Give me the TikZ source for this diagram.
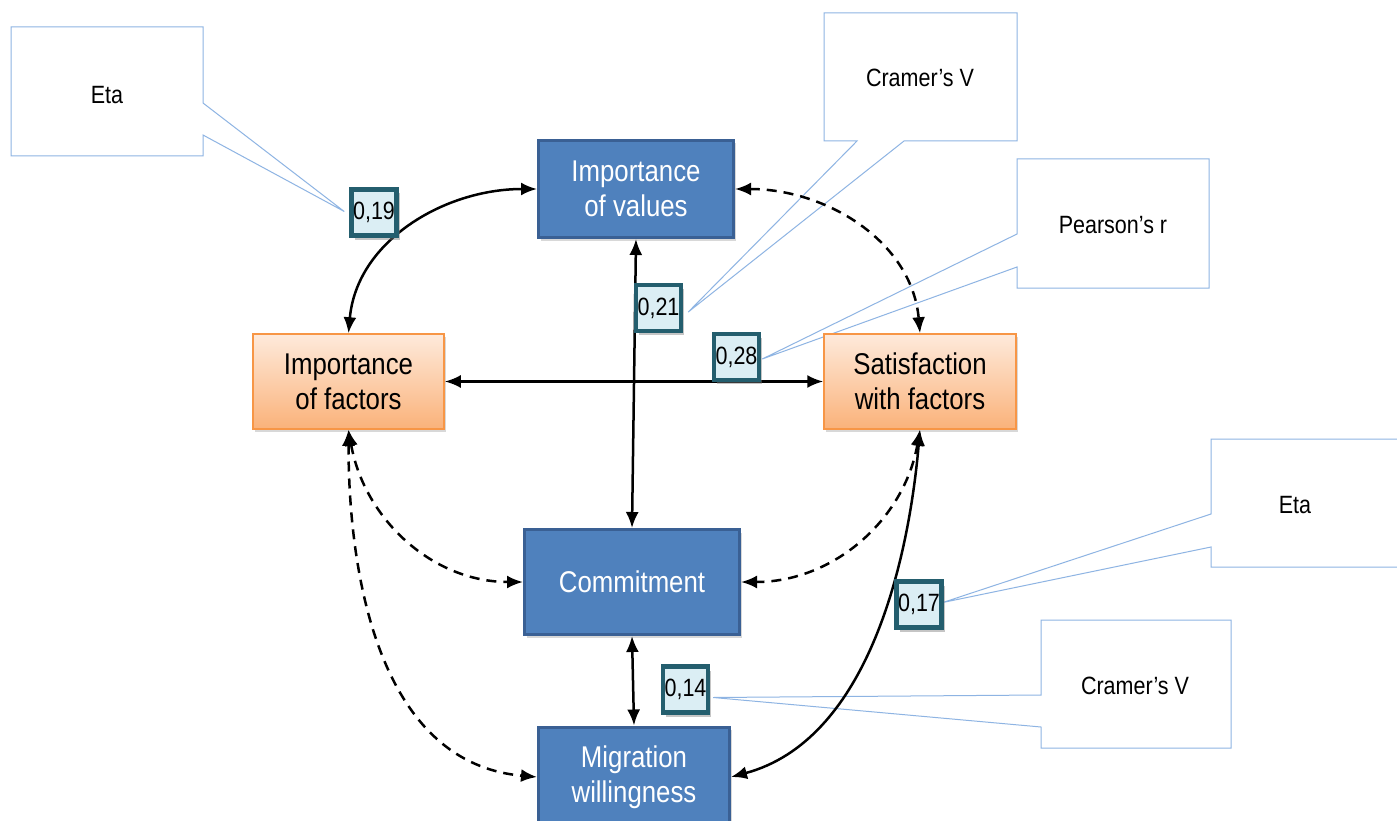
\documentclass[tikz,border=0pt]{standalone}
\usepackage{fontspec}
\setmainfont{Liberation Sans}
\newfontfamily\condfont[FakeStretch=0.86]{Liberation Sans}
\usetikzlibrary{arrows.meta,shadows,calc}
\definecolor{boxblue}{HTML}{4F81BD}
\definecolor{boxblueline}{HTML}{3A6094}
\definecolor{orline}{HTML}{F79646}
\definecolor{ortop}{HTML}{FEEADB}
\definecolor{orbot}{HTML}{FAB27A}
\definecolor{valfill}{HTML}{DBEEF4}
\definecolor{valline}{HTML}{245E6E}
\definecolor{callline}{HTML}{8EB4E3}
\definecolor{pointline}{HTML}{5B8BD0}
\pgfdeclarelayer{bg}\pgfsetlayers{bg,main}
\tikzset{
  bluebox/.style={draw=boxblueline, line width=3pt, fill=boxblue, text=white, align=center, inner sep=0pt,
    font=\condfont\fontsize{30}{35}\selectfont, drop shadow={opacity=.3, shadow xshift=2pt, shadow yshift=-3pt}},
  orbox/.style={draw=orline, line width=1.5pt, top color=ortop, bottom color=orbot, align=center, inner sep=0pt,
    font=\condfont\fontsize{30}{35}\selectfont, drop shadow={opacity=.3, shadow xshift=2pt, shadow yshift=-3pt}},
  valbox/.style={draw=valline, line width=4.5pt, fill=valfill, minimum width=45pt, minimum height=46pt, inner sep=0pt,
    font=\condfont\fontsize{25}{28}\selectfont, drop shadow={opacity=.45, shadow xshift=3pt, shadow yshift=-4pt}},
  link/.style={line width=2.5pt, {Latex[length=16pt,width=13pt]}-{Latex[length=16pt,width=13pt]}},
  dlink/.style={link, dash pattern=on 10pt off 7pt},
  callout/.style={draw=callline, line width=1pt, fill=white},
  calltext/.style={font=\condfont\fontsize{25}{28}\selectfont}
}
\begin{document}
\begin{tikzpicture}[x=1pt,y=1pt]
\useasboundingbox (0,0) rectangle (1397,-821);
\clip (0,0) rectangle (1397,-821);

% main boxes
\node[bluebox, minimum width=195pt, minimum height=97pt] (vals) at (636,-189) {Importance\\of values};
\node[orbox, minimum width=191pt, minimum height=95pt] (fac) at (348.5,-381.5) {Importance\\of factors};
\node[orbox, minimum width=192pt, minimum height=95pt] (sat) at (920,-381.5) {Satisfaction\\with factors};
\node[bluebox, minimum width=215pt, minimum height=105pt] (com) at (632,-582) {Commitment};
\node[bluebox, minimum width=191pt, minimum height=100pt] (mig) at (634,-777) {Migration\\willingness};

% connectors
\draw[link] (fac.north) to[out=85,in=180] (vals.west);
\draw[dlink] (vals.east) to[out=0,in=95] (sat.north);
\draw[link] (vals.south) -- (com.north);
\draw[link] (fac.east) -- (sat.west);
\draw[dlink] (fac.south) to[out=-80,in=180] (com.west);
\draw[dlink] (fac.south) to[out=-90,in=175] (mig.west);
\draw[dlink] (sat.south) to[out=-100,in=0] (com.east);
\draw[link] (sat.south) to[out=-95,in=15,looseness=0.9] (mig.east);
\draw[link] (com.south) -- (mig.north);

% value boxes
\node[valbox] (v19) at (374,-212.5) {0,19};
\node[valbox] (v21) at (658.5,-308) {0,21};
\node[valbox] (v28) at (736.5,-357) {0,28};
\node[valbox] (v17) at (919,-604.5) {0,17};
\node[valbox] (v14) at (685.5,-689.5) {0,14};

% callouts
\begin{pgfonlayer}{bg}
\fill[white] (0,0) rectangle (1397,-821);
\path[callout] (203,-103) -- (203,-27) -- (11,-27) -- (11,-156) -- (203,-156) -- (203,-135) -- ($(v19.west)+(-5,1)$) -- cycle;
\node[calltext] (t1) at (107,-95) {Eta};
\path[callout] (857,-141) -- (824,-141) -- (824,-13) -- (1017,-13) -- (1017,-141) -- (904,-141) -- ($(v21.east)+(5,-4)$) -- cycle;
\node[calltext] (t2) at (920,-78) {Cramer’s V};
\path[callout] (1017,-234) -- (1017,-159) -- (1209,-159) -- (1209,-288) -- (1017,-288) -- (1017,-267) -- ($(v28.east)+(1,-2)$) -- cycle;
\node[calltext] (t3) at (1113,-225) {Pearson’s r};
\path[callout] (1211,-514) -- (1211,-439) -- (1410,-439) -- (1410,-567) -- (1211,-567) -- (1211,-547) -- ($(v17.east)+(-1,2)$) -- cycle;
\node[calltext] (t4) at (1295,-505) {Eta};
\path[callout] (1041,-695) -- (1041,-620) -- (1231,-620) -- (1231,-748) -- (1041,-748) -- (1041,-727) -- ($(v14.east)+(3,-8)$) -- cycle;
\node[calltext] (t5) at (1135,-686) {Cramer’s V};
\end{pgfonlayer}
\end{tikzpicture}
\end{document}
